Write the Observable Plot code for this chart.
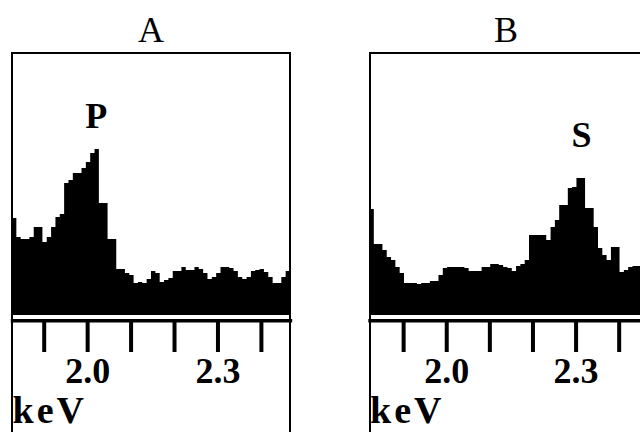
<!DOCTYPE html>
<html><head><meta charset="utf-8">
<script src="https://cdn.jsdelivr.net/npm/d3@7"></script>
<script src="https://cdn.jsdelivr.net/npm/@observablehq/plot@0.6"></script>
<style>
html,body{margin:0;padding:0;background:#fff;}
#wrap{position:relative;width:640px;height:432px;overflow:hidden;}
.panel{position:absolute;top:0;width:302px;height:432px;}
.title{height:52px;box-sizing:border-box;padding-top:9px;line-height:36px;font:36px "Liberation Serif",serif;text-align:center;color:#000;}
.border{position:absolute;top:52px;height:400px;width:280px;box-sizing:border-box;border:2px solid #000;border-bottom:none;}
svg{display:block;}
</style>
</head><body>
<div id="wrap"></div>
<script>
// Panel titles
const panelTitles = ["A", "B"];
// Channel width (keV)
const channelWidth = 0.01;
// Spectrum A: counts per channel starting at startA keV
const startA = 1.827;
const countsA = [97,78,76,76,78,88,88,73,78,88,98,101,132,135,142,142,147,153,162,166,112,112,76,76,46,46,42,40,32,33,32,36,44,42,33,35,37,44,44,48,45,45,48,46,42,36,38,42,48,48,47,44,38,36,38,44,45,46,43,38,32,32,38,44];
// Spectrum B
const startB = 1.822;
const countsB = [106,71,71,65,58,55,48,42,32,32,32,31,32,32,34,34,40,47,48,48,48,48,47,44,44,44,48,48,51,51,50,48,47,44,49,51,55,80,80,80,80,75,88,95,110,110,127,128,137,137,107,107,88,67,60,55,68,68,43,45,48,49,49,49,49];
// Axis ticks
const tickValues = [1.9, 2.0, 2.1, 2.2, 2.3, 2.4];
const labeledTicks = [2.0, 2.3];
const axisLabel = "keV";
// Peak labels
const peakLabelA = ["P"], peakEnergyA = [2.0196], peakCountA = [188];
const peakLabelB = ["S"], peakEnergyB = [2.3128], peakCountB = [169];

const FONT = '"Liberation Serif", serif';

function makePanel(left, title, start, counts, domain, range, labels, energies, heights, borderLeft) {
  const div = document.createElement("div");
  div.className = "panel";
  div.style.left = left + "px";
  const t = document.createElement("div");
  t.className = "title";
  t.textContent = title;
  div.appendChild(t);
  const pts = counts.map((c, i) => ({e: start + i * channelWidth, c}));
  pts.push({e: start + counts.length * channelWidth, c: counts[counts.length - 1]});
  const W = 302, H = 380;
  const svg = Plot.plot({
    width: W, height: H,
    marginTop: 1, marginBottom: 111.7, marginLeft: range[0], marginRight: W - range[1],
    x: {domain, range},
    y: {domain: [0, 262], range: [263, 1], axis: null},
    style: {fontFamily: FONT, background: "transparent", overflow: "visible", color: "#000"},
    marks: [
      Plot.areaY(pts, {x: "e", y: "c", curve: "step-after", fill: "#000", clip: true}),
      Plot.frame({anchor: "bottom", stroke: "#000", strokeWidth: 3.4}),
      Plot.axisX(tickValues, {
        tickSize: 31.7, strokeWidth: 4, stroke: "#000", tickPadding: 5.4,
        tickFormat: d => labeledTicks.includes(d) ? d.toFixed(1) : "",
        fontSize: 36, fontWeight: "bold", fill: "#000", label: null
      }),
      Plot.text([axisLabel], {text: d => d, frameAnchor: "bottom-left", dy: 75, lineAnchor: "top", textAnchor: "start", fontSize: 38, fontWeight: "bold", fill: "#000"}),
      Plot.text(labels, {x: energies, y: heights, text: d => d, lineAnchor: "bottom", textAnchor: "middle", fontSize: 36, fontWeight: "bold", fill: "#000"})
    ]
  });
  d3.select(svg).selectAll("text").filter(function() { return this.textContent === axisLabel; })
    .style("letter-spacing", "3px");
  div.appendChild(svg);
  const b = document.createElement("div");
  b.className = "border";
  b.style.left = borderLeft + "px";
  div.appendChild(b);
  document.getElementById("wrap").appendChild(div);
}

makePanel(0, panelTitles[0], startA, countsA, [1.827, 2.467], [12, 290], peakLabelA, peakEnergyA, peakCountA, 11);
makePanel(355, panelTitles[1], startB, countsB, [1.822, 2.468], [14.5, 293], peakLabelB, peakEnergyB, peakCountB, 13.5);
</script>
</body></html>
